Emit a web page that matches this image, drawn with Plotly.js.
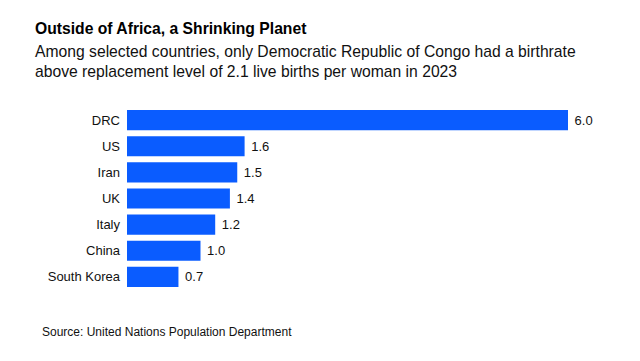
<!DOCTYPE html>
<html><head><meta charset="utf-8">
<script src="https://cdn.plot.ly/plotly-3.0.1.min.js"></script>
<style>html,body{margin:0;padding:0;background:#fff}</style>
</head><body><div id="chart" style="width:640px;height:361px"></div>
<script>
const countries = ["DRC","US","Iran","UK","Italy","China","South Korea"];
const birthrates = [6.0,1.6,1.5,1.4,1.2,1.0,0.7];
const valueLabels = birthrates.map(v => v.toFixed(1));
const titleText = "Outside of Africa, a Shrinking Planet";
const subtitleText = "Among selected countries, only Democratic Republic of Congo had a birthrate<br>above replacement level of 2.1 live births per woman in 2023";
const sourceText = "Source: United Nations Population Department";

const font = "Liberation Sans, Arial, sans-serif";
const L = 127, R = 72, T = 107, B = 71, W = 640, H = 361;
const pw = W - L - R, ph = H - T - B;
const px = x => (x - L) / pw;
const py = y => (H - B - y) / ph;

const trace = {
  type: "bar", orientation: "h",
  x: birthrates, y: countries,
  text: valueLabels, texttemplate: "\u00a0%{text}", textposition: "outside",
  textfont: {family: font, size: 13, color: "#111"},
  marker: {color: "#0a5cff"},
  width: 0.77, cliponaxis: false, hoverinfo: "none"
};
const layout = {
  width: W, height: H,
  margin: {l: L, r: R, t: T, b: B},
  paper_bgcolor: "#fff", plot_bgcolor: "#fff",
  showlegend: false,
  xaxis: {range: [0, 6], visible: false, fixedrange: true},
  yaxis: {autorange: "reversed", showgrid: false, zeroline: false, showline: false,
          ticks: "", ticklen: 0, ticklabelstandoff: 6, tickfont: {family: font, size: 13, color: "#111"},
          automargin: false, fixedrange: true},
  annotations: [
    {text: "<b>" + titleText + "</b>", xref: "paper", yref: "paper", x: px(33), y: py(28), xanchor: "left", yanchor: "middle",
     showarrow: false, font: {family: font, size: 15.7, color: "#000"}, align: "left"},
    {text: subtitleText, xref: "paper", yref: "paper", x: px(33), y: py(62), xanchor: "left", yanchor: "middle",
     showarrow: false, font: {family: font, size: 15.7, color: "#111"}, align: "left"},
    {text: sourceText, xref: "paper", yref: "paper", x: px(40), y: py(332), xanchor: "left", yanchor: "middle",
     showarrow: false, font: {family: font, size: 12, color: "#111"}, align: "left"}
  ]
};
Plotly.newPlot("chart", [trace], layout, {displayModeBar: false, staticPlot: true});
</script></body></html>
